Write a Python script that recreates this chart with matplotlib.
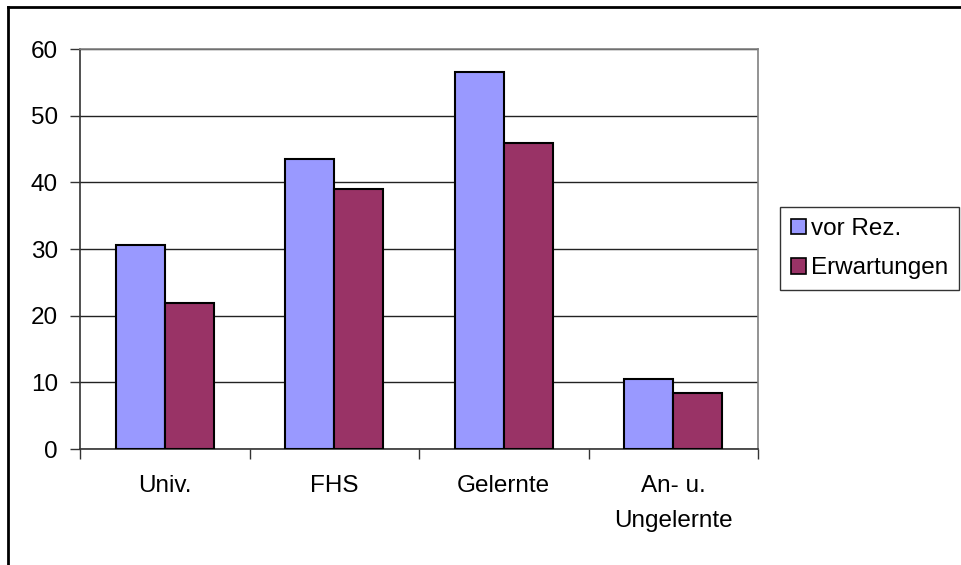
import matplotlib.pyplot as plt
import numpy as np
from matplotlib.lines import Line2D

plt.rcParams['font.family'] = ['Liberation Sans', 'DejaVu Sans']

categories = ['Univ.', 'FHS', 'Gelernte', 'An- u.\nUngelernte']
vor_rez = [30.6, 43.5, 56.6, 10.5]
erwartungen = [21.9, 39.0, 45.9, 8.4]

W, H = 961, 565
fig = plt.figure(figsize=(W / 100, H / 100), dpi=100)

# plot area in pixel terms
left, right, top, bottom = 80, 758, 49, 449
ax = fig.add_axes([left / W, 1 - bottom / H, (right - left) / W, (bottom - top) / H])

x = np.arange(len(categories))
bw = 0.29
ax.bar(x - bw / 2, vor_rez, bw, color='#9999FF', edgecolor='black', linewidth=1.5,
       label='vor Rez.', zorder=3)
ax.bar(x + bw / 2, erwartungen, bw, color='#993366', edgecolor='black', linewidth=1.5,
       label='Erwartungen', zorder=3)

ax.set_xlim(-0.5, len(categories) - 0.5)
ax.set_ylim(0, 60)
ax.set_yticks(range(0, 61, 10))
ax.yaxis.grid(True, color='#222222', linewidth=1, zorder=0)

fs = 17.5
# category separators as tick marks
ax.set_xticks(np.arange(-0.5, len(categories), 1.0))
ax.set_xticklabels([])
ax.set_xticks(x, minor=True)
ax.set_xticklabels(categories, minor=True, fontsize=fs, linespacing=1.75)
ax.tick_params(axis='x', which='minor', length=0, pad=19)
ax.tick_params(axis='x', which='major', length=7, width=1, color='#333333')
ax.tick_params(axis='y', length=7, width=1, color='#333333', labelsize=fs, pad=9)

for s in ['top', 'right']:
    ax.spines[s].set_color('#808080')
    ax.spines[s].set_linewidth(1.2)
for s in ['left', 'bottom']:
    ax.spines[s].set_color('#333333')
    ax.spines[s].set_linewidth(1.2)

leg = fig.legend(loc='upper left', bbox_to_anchor=(780 / W, 1 - 207 / H),
                 fontsize=fs, frameon=True, fancybox=False, edgecolor='black',
                 handlelength=0.6, handleheight=0.6, handletextpad=0.22,
                 borderpad=0.45, labelspacing=0.72, borderaxespad=0)
leg.get_frame().set_linewidth(1.0)
for p in leg.get_patches():
    p.set_linewidth(1.2)

# outer chart border
fig.add_artist(Line2D([8 / W, 8 / W], [0, 1 - 7 / H], color='black', linewidth=2,
                      transform=fig.transFigure))
fig.add_artist(Line2D([8 / W, 1], [1 - 7 / H, 1 - 7 / H], color='black', linewidth=2,
                      transform=fig.transFigure))

fig.savefig('out.png', dpi=100)
